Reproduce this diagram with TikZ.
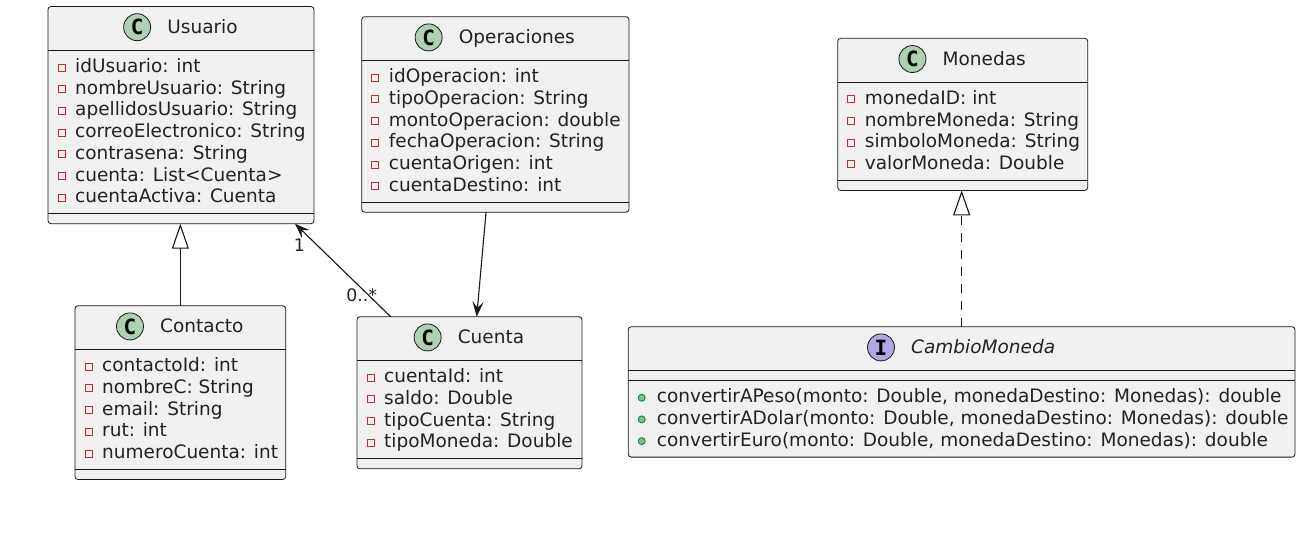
\documentclass[tikz,border=0pt]{standalone}
\usepackage{fontspec}
\setmainfont{DejaVu Sans}
\newfontfamily\circfont{DejaVu Sans Mono}
\usetikzlibrary{arrows.meta,calc,fit}
\definecolor{boxfill}{HTML}{F1F1F1}
\definecolor{border}{HTML}{181818}
\definecolor{cgreen}{HTML}{ADD1B2}
\definecolor{ipurple}{HTML}{B4A7E5}
\definecolor{privred}{HTML}{C82930}
\definecolor{pubfill}{HTML}{84BE84}
\definecolor{pubborder}{HTML}{038048}
\definecolor{txt}{HTML}{222222}
\tikzset{
  clsbox/.style={draw=border, fill=boxfill, line width=0.8pt, rounded corners=3pt, inner sep=0pt, outer sep=0pt},
  sepline/.style={draw=border, line width=0.8pt},
  ttl/.style={font=\fontsize{18.5pt}{22pt}\selectfont, text=txt, inner sep=0pt, anchor=base},
  attr/.style={font=\fontsize{18.5pt}{22pt}\selectfont, text=txt, inner sep=0pt, anchor=base west},
  circC/.style={circle, draw=border, line width=0.8pt, fill=cgreen, minimum size=27pt, inner sep=0pt, font=\circfont\bfseries\fontsize{21pt}{21pt}\selectfont},
  circI/.style={circC, fill=ipurple},
  priv/.style={rectangle, draw=privred, line width=0.9pt, minimum size=7pt, inner sep=0pt},
  pub/.style={circle, draw=pubborder, fill=pubfill, minimum size=7pt, inner sep=0pt, line width=0.8pt},
  conn/.style={draw=border, line width=1.1pt},
  lbl/.style={font=\fontsize{17.3pt}{20pt}\selectfont, text=txt, inner sep=0pt},
  inherit/.style={conn, -{Triangle[length=25pt,width=17pt,fill=white]}},
  realize/.style={inherit, dash pattern=on 8.5pt off 8.5pt},
  assoc/.style={conn, -{Stealth[length=15pt,width=11pt,inset=6pt]}}
}
\newcommand{\clsframe}[7]{% name, x1, y1, x2, y2, header sep y, bottom sep y
  \node[clsbox, fit={(#2,#3) (#4,#5)}] (#1) {};
  \draw[sepline] (#2,#6) -- (#4,#6);
  \draw[sepline] (#2,#7) -- (#4,#7);
}
\newcommand{\clstitle}[6]{% name, center x, top y, text, circle style, letter
  \node[ttl] (#1-t) at ({#2+21.5},{#3+27}) {#4};
  \node[#5] (#1-c) at ($(#1-t.base west)+(-30,-6.3)$) {#6};
}
\newcommand{\privattr}[4]{% left x, baseline, name, text
  \node[priv] (#3-i) at ({#1+13.7},{#2-5}) {};
  \node[attr] (#3) at ({#1+27},#2) {#4};
}
\newcommand{\pubmeth}[4]{% left x, baseline, name, text
  \node[pub] (#3-i) at ({#1+13.4},{#2-5}) {};
  \node[attr] (#3) at ({#1+28.4},#2) {#4};
}
\begin{document}
\begin{tikzpicture}[x=1pt,y=-1pt]
\useasboundingbox[fill=white] (0,0) rectangle (1316,538);

% Usuario
\clsframe{usuario}{48}{6.5}{314}{223.7}{50.5}{213.7}
\clstitle{usuario}{181}{6.5}{Usuario}{circC}{C}
\foreach \t [count=\i from 0] in {idUsuario: int, nombreUsuario: String, apellidosUsuario: String, correoElectronico: String, contrasena: String, cuenta: List<Cuenta>, cuentaActiva: Cuenta}{
  \pgfmathsetmacro\yy{72.5+21.7*\i}
  \privattr{48}{\yy}{usuario-a\i}{\t}
}

% Operaciones
\clsframe{operaciones}{361.7}{16.7}{629}{212.2}{60.7}{202.2}
\clstitle{operaciones}{495.35}{16.7}{Operaciones}{circC}{C}
\foreach \t [count=\i from 0] in {idOperacion: int, tipoOperacion: String, montoOperacion: double, fechaOperacion: String, cuentaOrigen: int, cuentaDestino: int}{
  \pgfmathsetmacro\yy{82.7+21.7*\i}
  \privattr{361.7}{\yy}{operaciones-a\i}{\t}
}

% Monedas
\clsframe{monedas}{837.7}{38.3}{1087.7}{190.4}{82.3}{180.4}
\clstitle{monedas}{962.7}{38.3}{Monedas}{circC}{C}
\foreach \t [count=\i from 0] in {monedaID: int, nombreMoneda: String, simboloMoneda: String, valorMoneda: Double}{
  \pgfmathsetmacro\yy{104.3+21.7*\i}
  \privattr{837.7}{\yy}{monedas-a\i}{\t}
}

% Contacto
\clsframe{contacto}{75}{305.7}{285.7}{479.5}{349.7}{469.5}
\clstitle{contacto}{180.35}{305.7}{Contacto}{circC}{C}
\foreach \t [count=\i from 0] in {contactoId: int, nombreC: String, email: String, rut: int, numeroCuenta: int}{
  \pgfmathsetmacro\yy{371.7+21.7*\i}
  \privattr{75}{\yy}{contacto-a\i}{\t}
}

% Cuenta
\clsframe{cuenta}{357}{316.7}{582}{468.8}{360.7}{458.8}
\clstitle{cuenta}{469.5}{316.7}{Cuenta}{circC}{C}
\foreach \t [count=\i from 0] in {cuentaId: int, saldo: Double, tipoCuenta: String, tipoMoneda: Double}{
  \pgfmathsetmacro\yy{382.7+21.7*\i}
  \privattr{357}{\yy}{cuenta-a\i}{\t}
}

% CambioMoneda
\clsframe{cambio}{628.3}{326.7}{1295}{457.1}{370.7}{380.7}
\clstitle{cambio}{961.65}{326.7}{\itshape CambioMoneda}{circI}{I}
\foreach \t [count=\i from 0] in {{convertirAPeso(monto: Double, monedaDestino: Monedas): double}, {convertirADolar(monto: Double, monedaDestino: Monedas): double}, {convertirEuro(monto: Double, monedaDestino: Monedas): double}}{
  \pgfmathsetmacro\yy{402.7+21.7*\i}
  \pubmeth{628.3}{\yy}{cambio-m\i}{\t}
}

% Connectors
\draw[inherit] (contacto.north) -- (contacto.north |- usuario.south);
\draw[realize] (cambio.north) -- (cambio.north |- monedas.south);
\draw[assoc] ($(cuenta.north west)+(33.7,0)$) -- ($(usuario.south east)+(-19,0)$);
\draw[assoc] ($(operaciones.south)+(-9.3,0)$) -- ($(cuenta.north)+(7.2,0)$);
\node[lbl] (mult1) at (299.3,245) {1};
\node[lbl] (mult2) at (361.7,295) {0..*};
\end{tikzpicture}
\end{document}
